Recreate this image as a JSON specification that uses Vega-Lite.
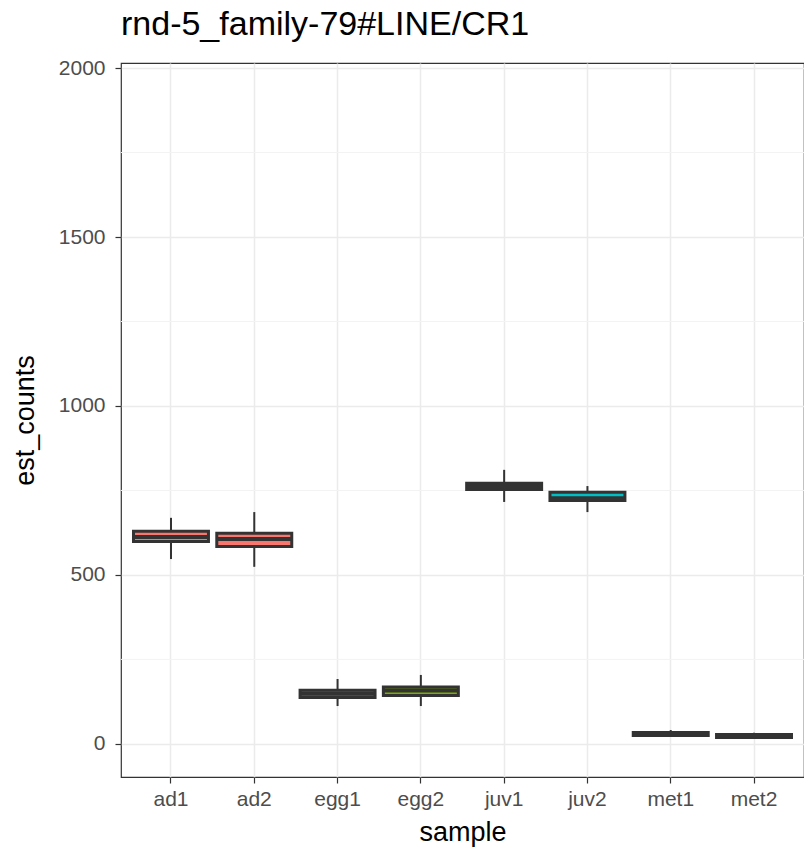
{
  "$schema": "https://vega.github.io/schema/vega-lite/v6.json",
  "width": 683,
  "height": 714,
  "autosize": {"type": "none"},
  "padding": {"left": 121, "top": 63, "right": 0, "bottom": 72},
  "background": "white",
  "title": {
    "text": "rnd-5_family-79#LINE/CR1",
    "anchor": "start",
    "frame": "group",
    "fontSize": 34,
    "font": "Liberation Sans",
    "fontWeight": "normal",
    "color": "#000000",
    "offset": 15
  },
  "config": {
    "view": {"stroke": "#333333", "strokeWidth": 1.2},
    "font": "Liberation Sans"
  },
  "datasets": {
    "boxes": [
      {"sample": "ad1", "group": "ad", "lower": 547, "q1": 599, "median": 612, "q3": 629, "upper": 669},
      {"sample": "ad2", "group": "ad", "lower": 524, "q1": 584, "median": 606, "q3": 623, "upper": 686},
      {"sample": "egg1", "group": "egg", "lower": 112, "q1": 137, "median": 148, "q3": 159, "upper": 192},
      {"sample": "egg2", "group": "egg", "lower": 112, "q1": 143, "median": 158, "q3": 168, "upper": 204},
      {"sample": "juv1", "group": "juv", "lower": 716, "q1": 753, "median": 763, "q3": 771, "upper": 811},
      {"sample": "juv2", "group": "juv", "lower": 686, "q1": 720, "median": 727, "q3": 745, "upper": 763},
      {"sample": "met1", "group": "met", "lower": 23, "q1": 25, "median": 30, "q3": 34, "upper": 41},
      {"sample": "met2", "group": "met", "lower": 16, "q1": 19, "median": 24, "q3": 28, "upper": 33}
    ],
    "minor": [
      {"v": 250}, {"v": 750}, {"v": 1250}, {"v": 1750}
    ]
  },
  "layer": [
    {
      "data": {"name": "minor"},
      "mark": {"type": "rule", "color": "#f3f3f3", "strokeWidth": 1},
      "encoding": {
        "y": {"field": "v", "type": "quantitative", "scale": {"domain": [-98, 2015], "nice": false, "zero": false}}
      }
    },
    {
      "data": {"name": "boxes"},
      "layer": [
        {
          "mark": {"type": "rule", "color": "#333333", "strokeWidth": 2},
          "encoding": {
            "x": {
              "field": "sample", "type": "nominal", "title": "sample",
              "scale": {"paddingInner": 0, "paddingOuter": 0.1},
              "axis": {
                "labelAngle": 0, "domain": false, "grid": true, "gridColor": "#ebebeb", "gridWidth": 1.5,
                "tickColor": "#333333", "tickSize": 6, "tickWidth": 1.2, "labelColor": "#4d4d4d", "labelFontSize": 21,
                "labelPadding": 5, "titleFontSize": 27, "titleFontWeight": "normal", "titleColor": "#000000", "titlePadding": 10
              }
            },
            "y": {
              "field": "lower", "type": "quantitative", "title": "est_counts",
              "scale": {"domain": [-98, 2015], "nice": false, "zero": false},
              "axis": {
                "values": [0, 500, 1000, 1500, 2000], "format": "d", "domain": false, "grid": true, "gridColor": "#ebebeb", "gridWidth": 1.5,
                "tickColor": "#333333", "tickSize": 6, "tickWidth": 1.2, "labelColor": "#4d4d4d", "labelFontSize": 21,
                "labelPadding": 10, "titleFontSize": 27, "titleFontWeight": "normal", "titleColor": "#000000", "titlePadding": 19
              }
            },
            "y2": {"field": "upper"}
          }
        },
        {
          "mark": {"type": "bar", "stroke": "#333333", "strokeWidth": 3, "width": {"band": 0.9}},
          "encoding": {
            "x": {"field": "sample", "type": "nominal"},
            "y": {"field": "q1", "type": "quantitative"},
            "y2": {"field": "q3"},
            "fill": {
              "field": "group", "type": "nominal", "legend": null,
              "scale": {"domain": ["ad", "egg", "juv", "met"], "range": ["#F8766D", "#7CAE00", "#00BFC4", "#C77CFF"]}
            }
          }
        },
        {
          "mark": {"type": "tick", "color": "#333333", "thickness": 4, "size": 75, "opacity": 1},
          "encoding": {
            "x": {"field": "sample", "type": "nominal"},
            "y": {"field": "median", "type": "quantitative"}
          }
        }
      ]
    }
  ]
}
